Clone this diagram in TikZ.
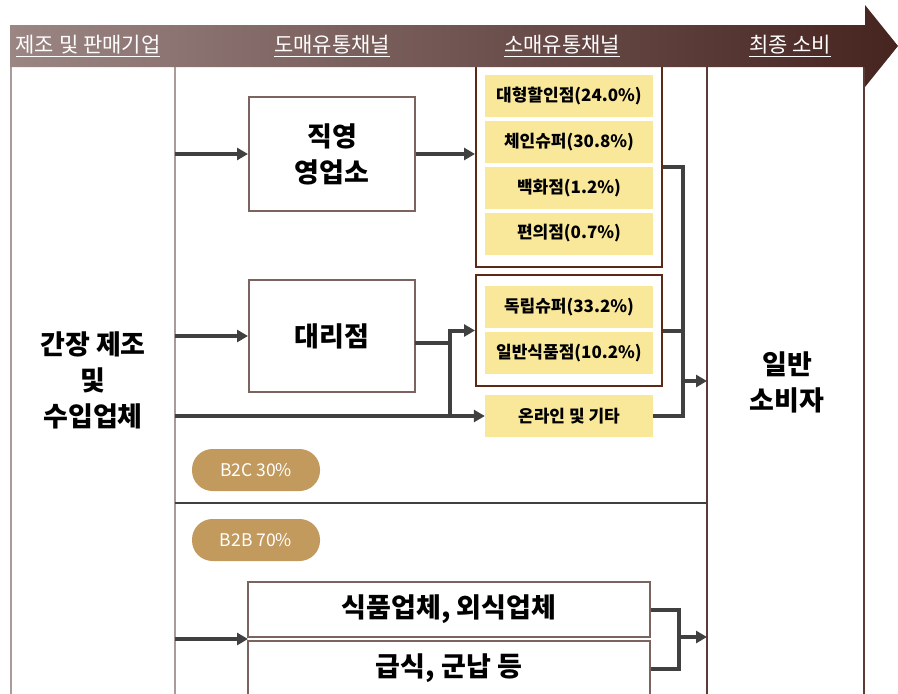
\documentclass[tikz,border=0pt]{standalone}
\usepackage{fontspec}
\setmainfont{Noto Sans CJK KR}
\usetikzlibrary{arrows.meta,calc}
\definecolor{yel}{HTML}{FAE89A}
\definecolor{lnc}{HTML}{404040}
\definecolor{boxc}{HTML}{7B6360}
\definecolor{grpc}{HTML}{5C2A14}
\definecolor{lightv}{HTML}{A99B99}
\definecolor{darkv}{HTML}{5B3B38}
\definecolor{tan}{HTML}{C29A5E}
\definecolor{hleft}{RGB}{155,134,132}
\definecolor{hmid}{RGB}{108,80,78}
\definecolor{hright}{RGB}{70,36,32}
\newcommand{\bigtxt}{\fontsize{27}{36}\selectfont\bfseries}
\newcommand{\ytxt}{\fontsize{17}{20}\selectfont\bfseries}
\begin{document}
\begin{tikzpicture}[x=1pt,y=-1pt,
  arr/.style={draw=lnc,line width=4pt,-{Triangle[length=11pt,width=12pt]}},
  ln/.style={draw=lnc,line width=4pt},
  box/.style={draw=boxc,line width=2pt,fill=white,font=\bigtxt,align=center,inner sep=0pt},
  gbox/.style={draw=grpc,line width=2pt,inner sep=0pt},
  ybox/.style={fill=yel,minimum width=168pt,minimum height=42pt,font=\ytxt,inner sep=0pt},
  pill/.style={fill=tan,rounded corners=20.5pt,minimum width=128pt,minimum height=42pt,text=white,font=\fontsize{17.5}{19}\selectfont,inner sep=0pt},
  txt/.style={font=\bigtxt,align=center,inner sep=0pt},
  htxt/.style={text=white,font=\fontsize{21}{23}\selectfont,inner sep=0pt}
]
\useasboundingbox (0,0) rectangle (898,694);
\clip (0,0) rectangle (898,694);
% column lines
\draw[lightv,line width=2.5pt] (11,60) -- (11,700);
\draw[lightv,line width=2.5pt] (175,60) -- (175,700);
\draw[darkv,line width=2pt] (707,60) -- (707,700);
\draw[darkv,line width=2pt] (864,60) -- (864,700);
\draw[lnc,line width=2.5pt] (175,503) -- (707,503);

% wholesale boxes
\node[box,minimum width=166pt,minimum height=114pt] (jy) at (332,154) {직영\\영업소};
\node[box,minimum width=166pt,minimum height=112pt] (dl) at (332,336) {대리점};

% retail groups
\node[gbox,minimum width=186pt,minimum height=205pt] (g1) at (569,164.5) {};
\node[gbox,minimum width=186pt,minimum height=111pt] (g2) at (569,330.5) {};
\node[ybox] (y1) at (569,96) {대형할인점(24.0\%)};
\node[ybox] (y2) at (569,142) {체인슈퍼(30.8\%)};
\node[ybox] (y3) at (569,188) {백화점(1.2\%)};
\node[ybox] (y4) at (569,233.5) {편의점(0.7\%)};
\node[ybox] (y5) at (569,307) {독립슈퍼(33.2\%)};
\node[ybox] (y6) at (569,353) {일반식품점(10.2\%)};
\node[ybox] (on) at (569,416) {온라인 및 기타};

% texts
\node[txt] (mk) at (93,380) {간장 제조\\및\\수입업체};
\node[txt] (cons) at (787,382) {일반\\소비자};

% pills
\node[pill] (b2c) at (256,470) {B2C 30\%};
\node[pill] (b2b) at (256,540) {B2B 70\%};

% bottom boxes
\node[box,minimum width=402pt,minimum height=55pt] (fd) at (449,609.5) {식품업체, 외식업체};
\node[box,minimum width=402pt,minimum height=55pt] (gs) at (449,668.5) {급식, 군납 등};

% coordinates
\coordinate (s1) at (175,154);
\coordinate (s2) at (175,336);
\coordinate (s3) at (175,416);
\coordinate (s4) at (175,639);
\coordinate (d1) at (415,343);
\coordinate (jx) at (450,416);
\coordinate (jt) at (450,343);
\coordinate (r1) at (683,381);
\coordinate (c1) at (707,381);
\coordinate (bj) at (248,639);
\coordinate (r2) at (679,637);
\coordinate (c2) at (707,637);

% connectors
\draw[arr] (s1) -- (jy.west);
\draw[arr] (jy.east) -- (jy.east -| g1.west);
\draw[arr] (s2) -- (dl.west);
\draw[ln] (d1) -- (jt);
\draw[arr] (s3) -- (on.west);
\draw[arr] (jx) |- (g2.west);
\draw[ln] (g1.east |- 0,167) -| (r1);
\draw[ln] (g2.east) -- (g2.east -| r1);
\draw[ln] (on.east) -| (r1);
\draw[arr] (r1) -- (c1);
\draw[arr] (s4) -- (bj);
\draw[ln] (fd.east) -| (r2);
\draw[ln] (gs.east) -| (r2);
\draw[arr] (r2) -- (c2);

% header arrow
\shade[left color=hleft,middle color=hmid,right color=hright]
  (10,25) -- (865,25) -- (865,5) -- (898,46) -- (865,87) -- (865,67) -- (10,67) -- cycle;
\node[htxt] (h1) at (88,46) {\underline{제조 및 판매기업}};
\node[htxt] (h2) at (332,46) {\underline{도매유통채널}};
\node[htxt] (h3) at (562,46) {\underline{소매유통채널}};
\node[htxt] (h4) at (790,46) {\underline{최종 소비}};
\end{tikzpicture}
\end{document}
